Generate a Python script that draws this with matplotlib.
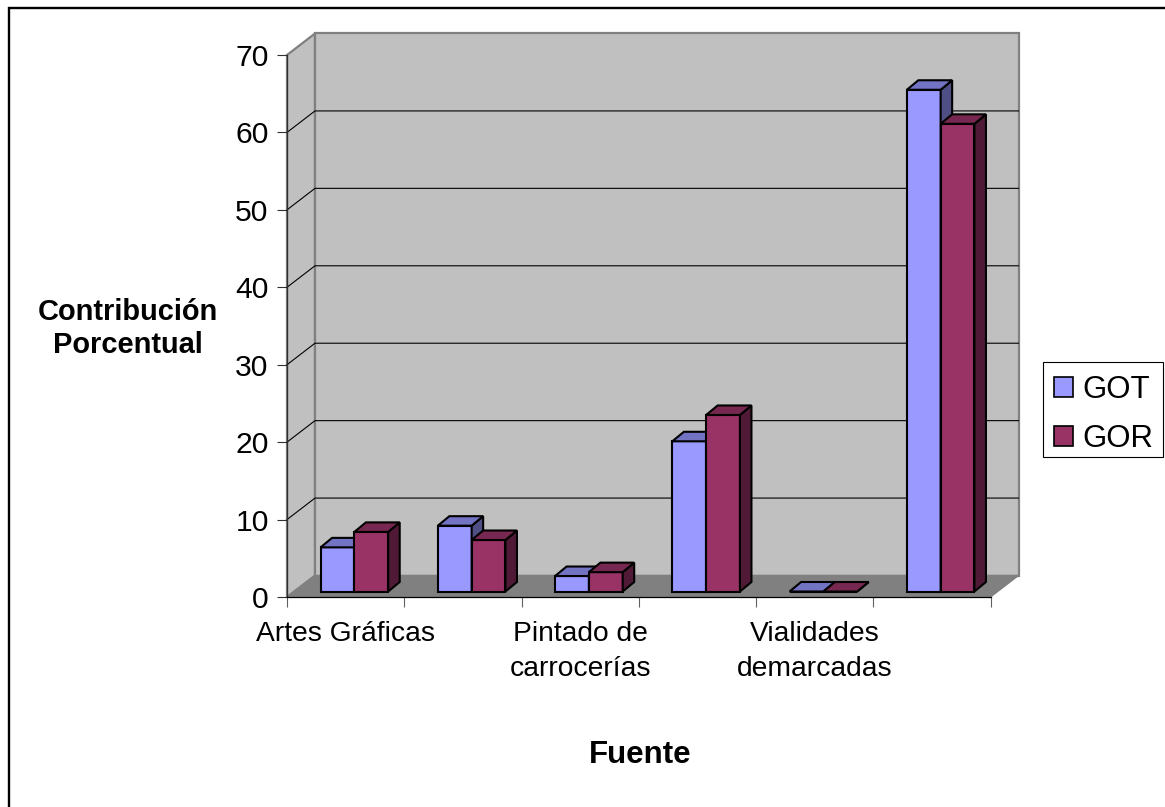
import matplotlib
matplotlib.use('Agg')
import matplotlib.pyplot as plt
from matplotlib.patches import Polygon, Patch, Rectangle

# el eje solo rotula una de cada dos categorias
categorias = ['Artes Gráficas', '', 'Pintado de\ncarrocerías', '', 'Vialidades\ndemarcadas', '']
got = [5.7, 8.5, 2.0, 19.4, 0.0, 64.8]
gor = [7.7, 6.65, 2.5, 22.8, 0.0, 60.4]
yticks = [0, 10, 20, 30, 40, 50, 60, 70]

W, H = 1165, 807
plt.rcParams['font.family'] = ['Liberation Sans', 'DejaVu Sans']

fig = plt.figure(figsize=(W / 100, H / 100), dpi=100)

# marco del grafico (los bordes derecho e inferior quedan fuera de la imagen)
fig.patches.append(Rectangle((8.5 / W, -0.2), 1.2, 0.2 + (1 - 7.5 / H), transform=fig.transFigure,
                             fc='white', ec='black', lw=1.7, zorder=-1))

# plano frontal del eje
x0, x1, ytop, ybot = 287, 990.5, 55, 597
ax = fig.add_axes([x0 / W, 1 - ybot / H, (x1 - x0) / W, (ybot - ytop) / H])
ax.set_xlim(0, 6)
ax.set_ylim(0, 70)
ax.patch.set_visible(False)

px_x = 6 / (x1 - x0)
px_y = 70 / (ybot - ytop)
wall_dx, wall_dy = 28 * px_x, 21.5 * px_y      # profundidad de la caja
bar_dx, bar_dy = 11.5 * px_x, 9.5 * px_y       # profundidad de las barras
base = 5.5 * px_y
bar_w = 33.8 * px_x
bar_off = 33.6 * px_x


def poly(pts, fc, ec, lw, z):
    ax.add_patch(Polygon(pts, closed=True, fc=fc, ec=ec, lw=lw, zorder=z, clip_on=False, joinstyle='miter'))


# paredes y piso
poly([(0, 0), (wall_dx, wall_dy), (wall_dx, 70 + wall_dy), (0, 70)], '#C0C0C0', '#808080', 1.6, 1)
poly([(wall_dx, wall_dy), (6 + wall_dx, wall_dy), (6 + wall_dx, 70 + wall_dy), (wall_dx, 70 + wall_dy)],
     '#C0C0C0', '#808080', 1.6, 1)
poly([(0, 0), (6, 0), (6 + wall_dx, wall_dy), (wall_dx, wall_dy)], '#808080', '#808080', 1, 1.5)

# lineas de division
for v in yticks[1:-1]:
    ax.plot([0, wall_dx, 6 + wall_dx], [v, v + wall_dy, v + wall_dy], color='black', lw=0.8,
            zorder=2, clip_on=False, solid_joinstyle='miter')

# barras
z = 3
for i in range(len(categorias)):
    for j, (vals, front, top, side) in enumerate([(got, '#9999FF', '#7373C4', '#4F4F85'),
                                                  (gor, '#993366', '#772850', '#501A36')]):
        left = i + bar_off + j * bar_w
        right = left + bar_w
        low = base
        high = base + vals[i]
        ax.bar(left, vals[i], width=bar_w, bottom=base, align='edge', color=front, edgecolor='black',
               linewidth=1.5, zorder=z, clip_on=False)
        poly([(right, low), (right + bar_dx, low + bar_dy), (right + bar_dx, high + bar_dy), (right, high)],
             side, 'black', 1.5, z + 0.1)
        poly([(left, high), (left + bar_dx, high + bar_dy), (right + bar_dx, high + bar_dy), (right, high)],
             top, 'black', 1.5, z + 0.2)
        z += 1

# ejes
for s in ['top', 'right']:
    ax.spines[s].set_visible(False)
ax.spines['left'].set_linewidth(0.9)
ax.spines['left'].set_color('#303030')
ax.spines['bottom'].set_linewidth(0.9)
ax.spines['left'].set_zorder(2.5)
ax.spines['bottom'].set_zorder(2.5)
ax.set_yticks(yticks)
ax.set_xticks(range(7))
ax.set_xticklabels([])
ax.set_xticks([0.5, 2.5, 4.5], [categorias[0], categorias[2], categorias[4]], minor=True, fontsize=20.3,
              linespacing=1.45)
ax.tick_params(axis='y', length=7.2, width=0.8, pad=6, labelsize=21.7, color='#303030')
ax.tick_params(axis='x', which='major', length=7.5, width=0.8, color='#606060')
ax.tick_params(axis='x', which='minor', length=0, pad=17)

ax.set_ylabel('Contribución\nPorcentual', rotation=0, fontsize=20.9, fontweight='bold', ha='center', va='center',
              linespacing=1.25)
ax.yaxis.set_label_coords((128 - x0) / (x1 - x0), (ybot - 328.5) / (ybot - ytop))
ax.set_xlabel('Fuente', fontsize=22.5, fontweight='bold', ha='center', va='center')
ax.xaxis.set_label_coords((640 - x0) / (x1 - x0), (ybot - 755) / (ybot - ytop))

# leyenda: el recuadro va aparte para centrar el contenido como en el original
fig.patches.append(Rectangle((1042.7 / W, 1 - 457 / H), 120.3 / W, 95.3 / H, transform=fig.transFigure,
                             fc='white', ec='black', lw=0.8, zorder=-0.5))
handles = [Patch(fc='#9999FF', ec='black', lw=1.2, label='GOT'), Patch(fc='#993366', ec='black', lw=1.2, label='GOR')]
fig.legend(handles=handles, loc='center left', bbox_to_anchor=(1054 / W, 1 - 414.5 / H), fontsize=22.4,
           frameon=False, handlelength=0.6, handleheight=0.6, handletextpad=0.3, labelspacing=0.6,
           borderpad=0, borderaxespad=0)

fig.savefig('out.png', dpi=100)
